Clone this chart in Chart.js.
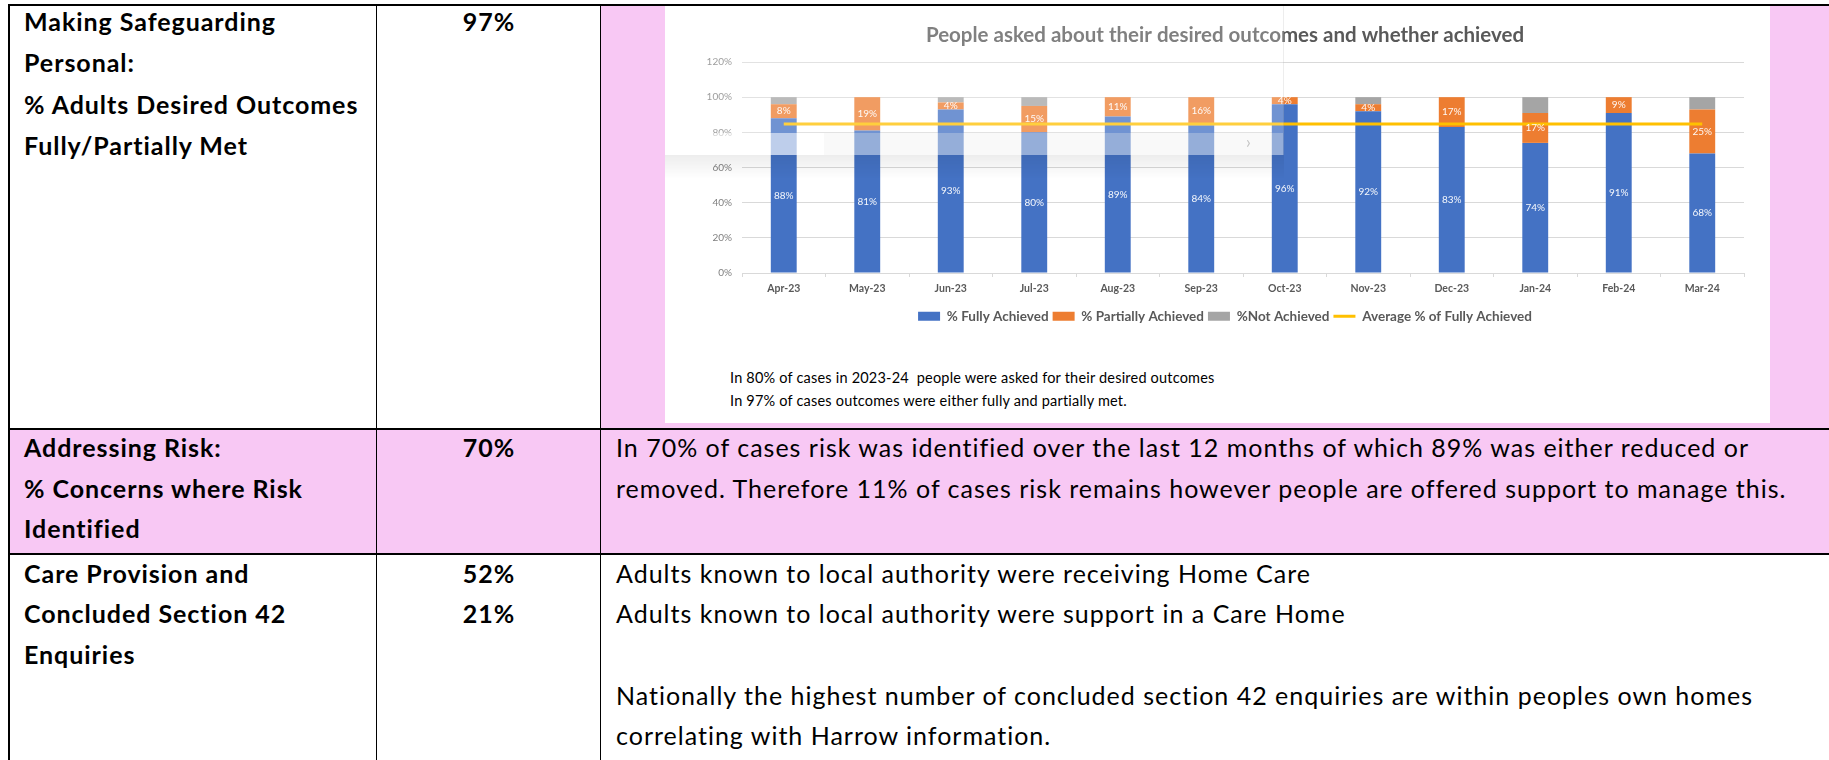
<!DOCTYPE html>
<html lang="en">
<head>
<meta charset="UTF-8">
<title>Making Safeguarding Personal</title>
<script src="https://cdn.jsdelivr.net/npm/chart.js@4.4.1/dist/chart.umd.min.js"></script>
<style>
html, body { margin: 0; padding: 0; background: #fff; }
body { position: relative; width: 1829px; height: 760px; overflow: hidden; font-family: Lato, "Open Sans", sans-serif; color: #000; }
.abs { position: absolute; }
.pink { background: #f8c8f4; }
.rule { position: absolute; background: #000; }
.t { position: absolute; white-space: pre; font-size: 25px; line-height: 25px; letter-spacing: 1px; margin-top: -1px; }
.b { font-weight: 700; letter-spacing: 0.95px; }
.c1 { left: 24px; }
.c2 { left: 377px; width: 224px; text-align: center; }
.c3 { left: 616px; }
.note { position: absolute; left: 730px; white-space: pre; font-size: 14.5px; line-height: 15px; letter-spacing: 0.2px; color: #000; }
</style>
</head>
<body>

<!-- cell fills -->
<div class="abs pink" style="left:601px;top:6px;width:1228px;height:423px"></div>
<div class="abs pink" style="left:9px;top:430px;width:1820px;height:124px"></div>

<!-- pasted chart picture -->
<div class="abs" style="left:665px;top:6px;width:1105px;height:417px;background:#fff"></div>
<canvas id="chart" class="abs" width="1084" height="327" style="left:686px;top:6px"></canvas>
<div class="note" style="top:370px">In 80% of cases in 2023-24  people were asked for their desired outcomes</div>
<div class="note" style="top:393px">In 97% of cases outcomes were either fully and partially met.</div>

<!-- the floating panel caught in the screenshot -->
<div class="abs" style="left:665px;top:6px;width:618px;height:149px;background:rgba(255,255,255,0.24);border-right:1px solid rgba(0,0,0,0.07)"></div>
<div class="abs" style="left:665px;top:133px;width:159px;height:22px;background:rgba(255,255,255,0.55)"></div>
<div class="abs" style="left:824px;top:133px;width:459px;height:22px;background:rgba(236,236,236,0.3)"></div>
<div class="abs" style="left:665px;top:155px;width:619px;height:24px;background:linear-gradient(rgba(0,0,0,0.07),rgba(0,0,0,0))"></div>
<div class="abs" style="left:1246px;top:131px;font-size:17px;color:#c4c4c4">›</div>

<!-- table rules -->
<div class="rule" style="left:8px;top:4px;width:1821px;height:2px"></div>
<div class="rule" style="left:8px;top:4px;width:2px;height:756px"></div>
<div class="rule" style="left:376px;top:4px;width:1px;height:756px"></div>
<div class="rule" style="left:600px;top:4px;width:1px;height:756px"></div>
<div class="rule" style="left:8px;top:428px;width:1821px;height:2px"></div>
<div class="rule" style="left:8px;top:553px;width:1821px;height:2px"></div>

<!-- row 1 -->
<div class="t b c1" style="top:10px">Making Safeguarding</div>
<div class="t b c1" style="top:51px">Personal:</div>
<div class="t b c1" style="top:93px">% Adults Desired Outcomes</div>
<div class="t b c1" style="top:134px">Fully/Partially Met</div>
<div class="t b c2" style="top:10px">97%</div>

<!-- row 2 -->
<div class="t b c1" style="top:436px">Addressing Risk:</div>
<div class="t b c1" style="top:477px">% Concerns where Risk</div>
<div class="t b c1" style="top:517px">Identified</div>
<div class="t b c2" style="top:436px">70%</div>
<div class="t c3" style="top:436px">In 70% of cases risk was identified over the last 12 months of which 89% was either reduced or</div>
<div class="t c3" style="top:477px">removed. Therefore 11% of cases risk remains however people are offered support to manage this.</div>

<!-- row 3 -->
<div class="t b c1" style="top:562px">Care Provision and</div>
<div class="t b c1" style="top:602px">Concluded Section 42</div>
<div class="t b c1" style="top:643px">Enquiries</div>
<div class="t b c2" style="top:562px">52%</div>
<div class="t b c2" style="top:602px">21%</div>
<div class="t c3" style="top:562px">Adults known to local authority were receiving Home Care</div>
<div class="t c3" style="top:602px">Adults known to local authority were support in a Care Home</div>
<div class="t c3" style="top:684px">Nationally the highest number of concluded section 42 enquiries are within peoples own homes</div>
<div class="t c3" style="top:724px">correlating with Harrow information.</div>

<script>
var months = ['Apr-23', 'May-23', 'Jun-23', 'Jul-23', 'Aug-23', 'Sep-23', 'Oct-23', 'Nov-23', 'Dec-23', 'Jan-24', 'Feb-24', 'Mar-24']
var fullyAchieved = [88, 81, 93, 80, 89, 84, 96, 92, 83, 74, 91, 68]
var partiallyAchieved = [8, 19, 4, 15, 11, 16, 4, 4, 17, 17, 9, 25]
var notAchieved = [4, 0, 3, 5, 0, 0, 0, 4, 0, 9, 0, 7]
var averageFully = [84.7, 84.7, 84.7, 84.7, 84.7, 84.7, 84.7, 84.7, 84.7, 84.7, 84.7, 84.7]
var yTickLabels = ['0%', '20%', '40%', '60%', '80%', '100%', '120%']

Chart.defaults.font.family = 'Lato, "Open Sans", sans-serif'

// white % labels in the middle of the blue and orange pieces
var segmentLabels = {
  id: 'segmentLabels',
  afterDatasetsDraw(chart) {
    var ctx = chart.ctx
    ctx.save()
    ctx.font = '10px Lato'
    ctx.fillStyle = 'rgba(255,255,255,0.95)'
    ctx.textAlign = 'center'
    ctx.textBaseline = 'middle'
    ;[0, 1].forEach(di => {
      var values = chart.data.datasets[di].data
      chart.getDatasetMeta(di).data.forEach((bar, i) => {
        if (!values[i]) return
        ctx.fillText(values[i] + '%', bar.x, (bar.y + bar.base) / 2)
      })
    })
    ctx.restore()
  }
}

var ctx = document.getElementById('chart')
var myChart = new Chart(ctx.getContext('2d'), {
  type: 'bar',
  data: {
    labels: months,
    datasets: [
      { label: '% Fully Achieved', data: fullyAchieved, backgroundColor: '#4472c4', order: 1 },
      { label: '% Partially Achieved', data: partiallyAchieved, backgroundColor: '#ed7d31', order: 1 },
      { label: '%Not Achieved', data: notAchieved, backgroundColor: '#a5a5a5', order: 1 },
      {
        type: 'line', label: 'Average % of Fully Achieved', data: averageFully, stack: 'avg',
        borderColor: '#ffc000', backgroundColor: '#ffc000', borderWidth: 3, pointRadius: 0, order: 0
      }
    ]
  },
  options: {
    responsive: false,
    animation: false,
    datasets: { bar: { barPercentage: 0.31, categoryPercentage: 1 } },
    // left padding + narrow y box keep the title and legend centred on the picture
    layout: { padding: { left: 20, right: 26, top: 0, bottom: 0 } },
    scales: {
      x: {
        stacked: true,
        grid: { display: true, drawOnChartArea: false, drawTicks: true, tickLength: 4, color: '#d9d9d9' },
        border: { display: true, color: '#d9d9d9' },
        ticks: { color: '#595959', font: { size: 10.5, weight: 'bold' }, padding: 5, maxRotation: 0, autoSkip: false },
        afterFit: (s) => { s.height = 32.5 }
      },
      y: {
        stacked: true,
        min: 0,
        max: 120,
        ticks: { stepSize: 20, color: '#7f7f7f', font: { size: 10 }, padding: 10, callback: (v, i) => yTickLabels[i] },
        grid: { color: '#d9d9d9', drawTicks: false },
        border: { display: false },
        afterFit: (s) => { s.width = 36 }
      }
    },
    plugins: {
      tooltip: { enabled: false },
      title: {
        display: true,
        text: 'People asked about their desired outcomes and whether achieved',
        color: '#595959',
        font: { size: 20.5, weight: 'bold' },
        padding: { top: 17.5, bottom: 13.9 }
      },
      legend: {
        position: 'bottom',
        labels: {
          usePointStyle: true,
          pointStyleWidth: 22,
          boxHeight: 9,
          padding: 4,
          color: '#595959',
          font: { size: 13.5, weight: 'bold' },
          sort: (a, b) => a.datasetIndex - b.datasetIndex,
          generateLabels(chart) {
            var items = Chart.defaults.plugins.legend.labels.generateLabels(chart)
            items.forEach(it => {
              var ds = chart.data.datasets[it.datasetIndex]
              if (ds.type === 'line') {
                it.pointStyle = 'line'
                it.strokeStyle = ds.borderColor
                it.lineWidth = 3
              } else {
                it.pointStyle = 'rect'
                it.lineWidth = 0
              }
            })
            return items
          }
        }
      }
    }
  },
  plugins: [segmentLabels]
})
</script>
</body>
</html>
